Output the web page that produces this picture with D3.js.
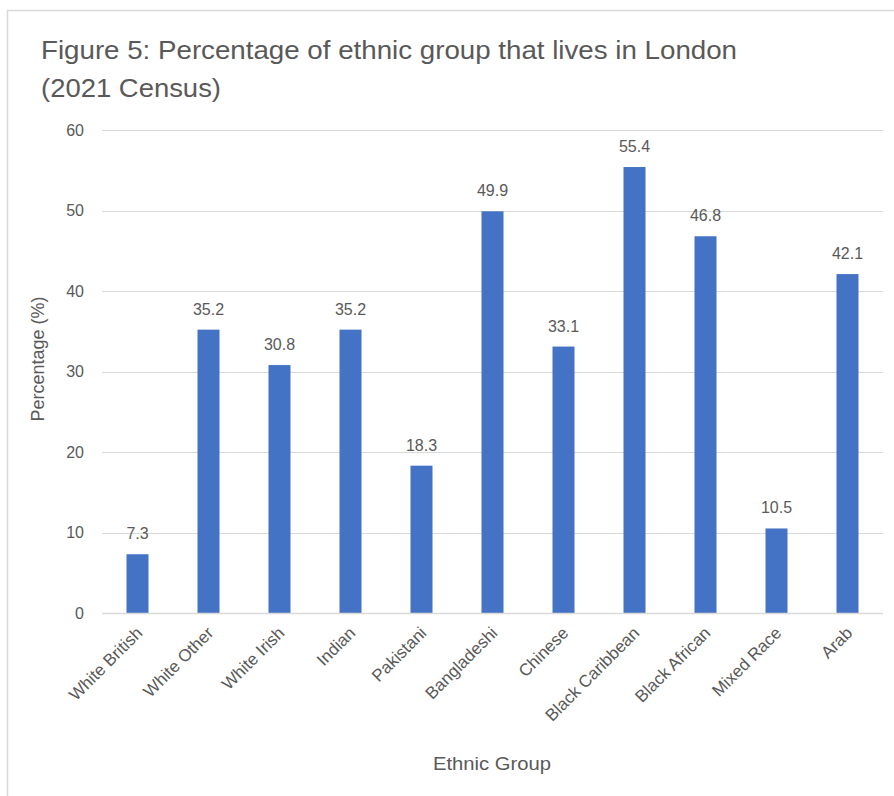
<!DOCTYPE html>
<html><head><meta charset="utf-8">
<script src="https://cdn.jsdelivr.net/npm/d3@7"></script>
<style>
html,body{margin:0;padding:0;background:#fff;}
svg{display:block;}
text{font-family:"Liberation Sans",Arial,sans-serif;fill:#595959;}
</style></head>
<body>
<svg id="chart" width="894" height="796"></svg>
<script>
const categories = ["White British","White Other","White Irish","Indian","Pakistani","Bangladeshi","Chinese","Black Caribbean","Black African","Mixed Race","Arab"];
const values = [7.3,35.2,30.8,35.2,18.3,49.9,33.1,55.4,46.8,10.5,42.1];
const yTicks = [0,10,20,30,40,50,60];
const titleLines = ["Figure 5: Percentage of ethnic group that lives in London","(2021 Census)"];

const svg = d3.select("#chart");
// outer chart frame
svg.append("rect").attr("x",7.5).attr("y",10.5).attr("width",900).attr("height",800)
  .attr("fill","#fff").attr("stroke","#d9d9d9").attr("stroke-width",1.5);

const plotLeft = 102, plotRight = 883, plotTop = 130, plotBottom = 613;
const x = d3.scaleBand().domain(categories).range([plotLeft,plotRight]).paddingInner(0.69).paddingOuter(0.345);
const y = d3.scaleLinear().domain([0,60]).range([plotBottom,plotTop]);

// gridlines
svg.append("g").selectAll("line").data(yTicks).join("line")
  .attr("x1",plotLeft).attr("x2",plotRight)
  .attr("y1",d=>Math.round(y(d))+0.5).attr("y2",d=>Math.round(y(d))+0.5)
  .attr("stroke","#d9d9d9").attr("stroke-width",1);

// y axis tick labels
const yAxis = svg.append("g").attr("transform",`translate(${plotLeft},0)`)
  .call(d3.axisLeft(y).tickValues(yTicks).tickSize(0).tickPadding(18));
yAxis.select(".domain").remove();
yAxis.selectAll("text").style("font-size","16px").attr("fill","#595959")
  .style("font-family","'Liberation Sans',Arial,sans-serif");

// bars
svg.append("g").selectAll("rect").data(values).join("rect")
  .attr("x",(d,i)=>x(categories[i]))
  .attr("width",x.bandwidth())
  .attr("y",d=>y(d))
  .attr("height",d=>plotBottom-y(d))
  .attr("fill","#4472c4");

// x axis line
svg.append("line").attr("x1",plotLeft).attr("x2",plotRight).attr("y1",plotBottom+0.5).attr("y2",plotBottom+0.5)
  .attr("stroke","#d9d9d9").attr("stroke-width",1.5);

// value labels
svg.append("g").selectAll("text").data(values).join("text")
  .attr("x",(d,i)=>x(categories[i])+x.bandwidth()/2)
  .attr("y",d=>y(d)-15)
  .attr("text-anchor","middle")
  .style("font-size","16px")
  .text(d=>d.toFixed(1));

// category labels
const xAxis = svg.append("g").attr("transform",`translate(0,${plotBottom})`)
  .call(d3.axisBottom(x).tickSize(0).tickPadding(0));
xAxis.select(".domain").remove();
xAxis.selectAll("text")
  .attr("text-anchor","end")
  .attr("dy",null).attr("y",null)
  .attr("transform","translate(6,21) rotate(-45)")
  .attr("fill","#595959")
  .style("font-size","17px")
  .style("font-family","'Liberation Sans',Arial,sans-serif");

// title
const titleWidths = [696,180];
svg.append("g").selectAll("text").data(titleLines).join("text")
  .attr("x",41).attr("y",(d,i)=>59+i*38)
  .style("font-size","25px")
  .attr("textLength",(d,i)=>titleWidths[i])
  .attr("lengthAdjust","spacingAndGlyphs")
  .text(d=>d);

// axis titles
svg.append("text").attr("transform","translate(44,359) rotate(-90)")
  .attr("text-anchor","middle").style("font-size","18px").text("Percentage (%)");
svg.append("text").attr("x",492).attr("y",770)
  .attr("text-anchor","middle").style("font-size","18px")
  .attr("textLength",118).attr("lengthAdjust","spacingAndGlyphs").text("Ethnic Group");
</script>
</body></html>
